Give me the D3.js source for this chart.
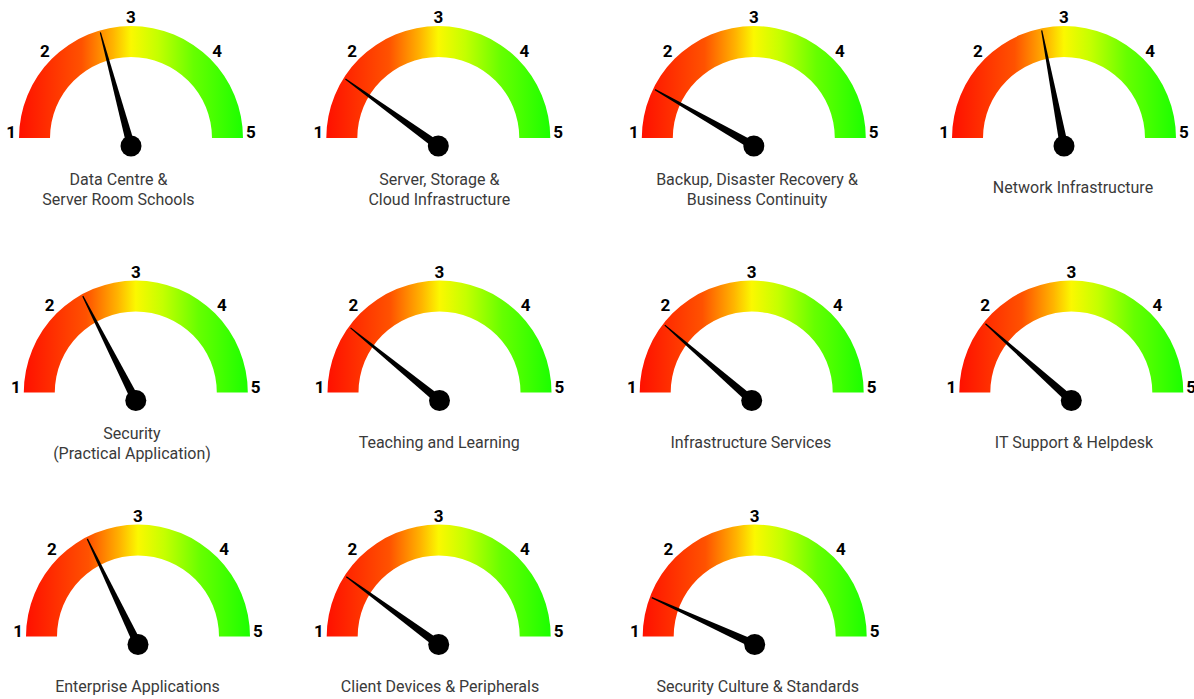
<!DOCTYPE html>
<html>
<head>
<meta charset="utf-8">
<script src="https://cdn.jsdelivr.net/npm/d3@7"></script>
<style>
  body { margin: 0; background: #fff; }
  svg { display: block; }
</style>
</head>
<body>
<svg id="chart" width="1194" height="699"></svg>
<script>
// gauge names (lines split where the reference breaks them)
const titles = [
  ["Data Centre &", "Server Room Schools"],
  ["Server, Storage &", "Cloud Infrastructure"],
  ["Backup, Disaster Recovery &", "Business Continuity"],
  ["Network Infrastructure"],
  ["Security", "(Practical Application)"],
  ["Teaching and Learning"],
  ["Infrastructure Services"],
  ["IT Support & Helpdesk"],
  ["Enterprise Applications"],
  ["Client Devices & Peripherals"],
  ["Security Culture & Standards"]
]
// needle readings, scale 1-5
const scores = [2.64, 1.72, 1.58, 2.74, 2.36, 1.80, 1.84, 1.86, 2.39, 1.73, 1.46]
const ticks = [1, 2, 3, 4, 5]

// layout: gauge centre x per row, baseline y per row, title centre x per row
const rowY = [138, 392.5, 636.5]
const colX = [[131, 438.3, 753.8, 1064], [135.8, 439.5, 751.7, 1071.3], [138, 438.7, 754.7]]
const titleX = [[118.5, 439.3, 757, 1073], [132, 439.2, 750.8, 1074], [137.5, 440, 757.8]]

const outerR = 112, innerR = 81, needleR = 110, labelR = 115, pivotDrop = 8

const svg = d3.select("#chart")

const grad = svg.append("defs").append("linearGradient")
    .attr("id", "gaugeGrad")
    .attr("x1", "0%").attr("x2", "100%").attr("y1", "0%").attr("y2", "0%")
const stops = [[0, "#ff1000"], [0.28, "#ff5200"], [0.42, "#ffb400"], [0.5, "#fbf800"], [0.62, "#c4ff00"], [0.78, "#66ff00"], [1, "#1cff00"]]
grad.selectAll("stop").data(stops).enter().append("stop")
    .attr("offset", d => d[0])
    .attr("stop-color", d => d[1])

const angle = d3.scaleLinear().domain([1, 5]).range([-Math.PI / 2, Math.PI / 2])

const arc = d3.arc()
    .innerRadius(innerR)
    .outerRadius(outerR)
    .startAngle(-Math.PI / 2)
    .endAngle(Math.PI / 2)

const gauges = titles.map((t, i) => {
    const row = Math.floor(i / 4), col = i % 4
    return {title: t, score: scores[i], x: colX[row][col], y: rowY[row], tx: titleX[row][col]}
})

const g = svg.selectAll(".gauge")
    .data(gauges)
    .enter()
    .append("g")
        .attr("class", "gauge")

g.append("path")
    .attr("transform", d => "translate(" + d.x + "," + d.y + ")")
    .attr("d", arc())
    .attr("fill", "url(#gaugeGrad)")

// tick numbers round the arc
g.each(function(d) {
    d3.select(this).selectAll(".tick")
        .data(ticks)
        .enter()
        .append("text")
            .attr("class", "tick")
            .attr("x", v => d.x + labelR * Math.sin(angle(v)))
            .attr("y", v => d.y - labelR * Math.cos(angle(v)))
            .attr("text-anchor", v => v < 3 ? "end" : v > 3 ? "start" : "middle")
            .style("font-family", "Roboto, sans-serif")
            .style("font-weight", "bold")
            .style("font-size", "17px")
            .style("fill", "#000")
            .text(v => v)
})

// needle: tapered wedge from the pivot to the arc
g.append("path")
    .attr("d", d => {
        const a = angle(d.score)
        const px = d.x, py = d.y + pivotDrop
        const tx = d.x + needleR * Math.sin(a), ty = d.y - needleR * Math.cos(a)
        const len = Math.hypot(tx - px, ty - py)
        const nx = -(ty - py) / len, ny = (tx - px) / len
        const wb = 4.2, wt = 0.6
        return "M" + (px + nx * wb) + "," + (py + ny * wb) +
            "L" + (tx + nx * wt) + "," + (ty + ny * wt) +
            "L" + (tx - nx * wt) + "," + (ty - ny * wt) +
            "L" + (px - nx * wb) + "," + (py - ny * wb) + "Z"
    })
    .attr("fill", "#000")

g.append("circle")
    .attr("cx", d => d.x)
    .attr("cy", d => d.y + pivotDrop)
    .attr("r", 10.5)
    .attr("fill", "#000")

const lineH = 20
g.each(function(d) {
    const n = d.title.length
    const mid = n > 1 ? 51 : 49.5
    d3.select(this).selectAll(".title")
        .data(d.title)
        .enter()
        .append("text")
            .attr("class", "title")
            .attr("x", d.tx)
            .attr("y", (s, k) => d.y + mid + (k - (n - 1) / 2) * lineH)
            .attr("dy", "0.35em")
            .attr("text-anchor", "middle")
            .style("font-family", "Roboto, sans-serif")
            .style("font-size", "16px")
            .style("fill", "#3a3a3a")
            .text(s => s)
})
</script>
</body>
</html>
